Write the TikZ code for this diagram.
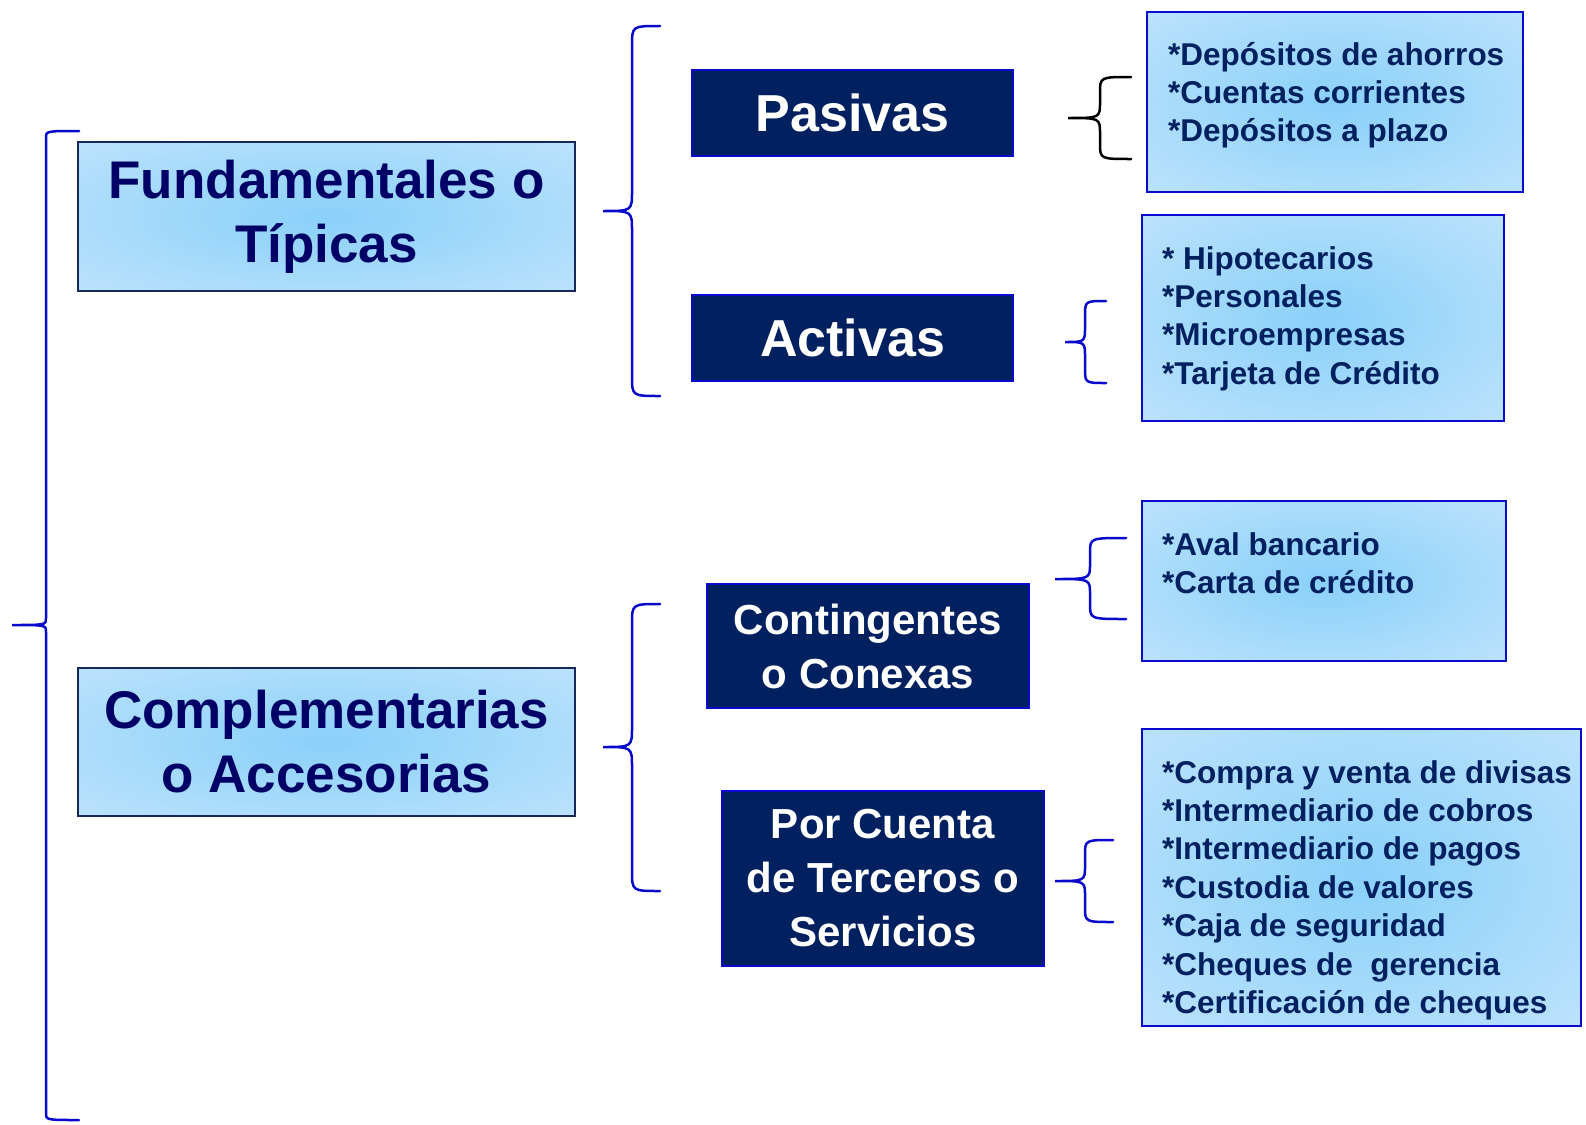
\documentclass[tikz,border=0pt]{standalone}
\usepackage{fontspec}
\setmainfont{Liberation Sans}
\usepackage{xcolor}
\usetikzlibrary{calc}

\definecolor{navyfill}{RGB}{0,32,96}
\definecolor{edgeblue}{RGB}{10,10,205}
\definecolor{titlenavy}{RGB}{0,0,102}
\definecolor{titleedge}{RGB}{25,40,90}
\definecolor{skyglow}{RGB}{138,208,250}
\definecolor{paleglow}{RGB}{216,237,252}

\pgfdeclareradialshading{glow}{\pgfpoint{0bp}{0bp}}{color(0bp)=(skyglow); color(56bp)=(paleglow); color(75bp)=(paleglow)}

% curly brace opening to the right: tip x, stem x, end x, top y, tip y, bottom y, corner
\newcommand{\bracedraw}[8][]{%
  \draw[brc,#1] (#4,#5) .. controls (#3,#5) .. (#3,{#5+#8})
    -- (#3,{#6-#8}) .. controls (#3,#6) .. (#2,#6)
    .. controls (#3,#6) .. (#3,{#6+#8})
    -- (#3,{#7-#8}) .. controls (#3,#7) .. (#4,#7);}

\begin{document}
\begin{tikzpicture}[
    x=1pt, y=-1pt,
    titlebox/.style={
        draw=titleedge, line width=2.5pt, shading=glow,
        font=\fontsize{53}{64}\selectfont\bfseries, text=titlenavy,
        align=center, inner sep=0pt
    },
    darkbox/.style={
        draw=edgeblue, line width=1.5pt, fill=navyfill,
        text=white, align=center, inner sep=0pt
    },
    listbox/.style={
        draw=edgeblue, line width=2.5pt, shading=glow, inner sep=0pt
    },
    listtext/.style={
        font=\fontsize{31.5}{38.4}\selectfont\bfseries, text=navyfill,
        align=left, inner sep=0pt, anchor=base west
    },
    brc/.style={edgeblue, line width=2.5pt, line cap=round}
]
    \useasboundingbox (0,0) rectangle (1586,1124);

    % main groups
    \node[titlebox, minimum width=497pt, minimum height=149pt] (fund) at (326.5,216.5) {Fundamentales o\\Típicas};
    \node[titlebox, minimum width=497pt, minimum height=148pt] (compl) at (326.5,742) {Complementarias\\o Accesorias};

    % operation types
    \node[darkbox, minimum width=321pt, minimum height=86pt, font=\fontsize{52}{62}\selectfont\bfseries] (pas) at (852.5,113) {Pasivas};
    \node[darkbox, minimum width=321pt, minimum height=86pt, font=\fontsize{52}{62}\selectfont\bfseries] (act) at (852.5,338) {Activas};
    \node[darkbox, minimum width=322pt, minimum height=124pt, font=\fontsize{42}{54}\selectfont\bfseries] (cont) at (868,646) {Contingentes\\o Conexas};
    \node[darkbox, minimum width=322pt, minimum height=175pt, font=\fontsize{42}{54}\selectfont\bfseries] (porc) at (883,878.5) {Por Cuenta\\de Terceros o\\Servicios};

    % lists (anchored at the baseline of the last line)
    \node[listbox, minimum width=376pt, minimum height=180pt] (pasL) at (1335,102) {};
    \node[listbox, minimum width=362pt, minimum height=206pt] (actL) at (1323,318) {};
    \node[listbox, minimum width=364pt, minimum height=160pt] (contL) at (1324,581) {};
    \node[listbox, minimum width=439pt, minimum height=297pt] (porcL) at (1361.5,877.5) {};

    \node[listtext] (pasT) at (1168,141.8) {*Depósitos de ahorros\\*Cuentas corrientes\\*Depósitos a plazo};
    \node[listtext] (actT) at (1162,384.2) {* Hipotecarios\\*Personales\\*Microempresas\\*Tarjeta de Crédito};
    \node[listtext] (contT) at (1162,593.4) {*Aval bancario\\*Carta de crédito};
    \node[listtext] (porcT) at (1162,1013.4) {*Compra y venta de divisas\\*Intermediario de cobros\\*Intermediario de pagos\\*Custodia de valores\\*Caja de seguridad\\*Cheques de \ gerencia\\*Certificación de cheques};

    % braces
    \bracedraw{12}{46}{79}{131}{625}{1120}{7}
    \bracedraw{603}{632}{660}{26}{211}{396}{20}
    \bracedraw{603}{632}{660}{604}{747}{891}{20}
    \bracedraw[black]{1068}{1100}{1131}{77}{118}{159}{16}
    \bracedraw{1065}{1085}{1106}{301}{342}{383}{15}
    \bracedraw{1055}{1090}{1126}{538}{579}{619}{15}
    \bracedraw{1055}{1085}{1113}{840}{881}{922}{15}
\end{tikzpicture}
\end{document}
